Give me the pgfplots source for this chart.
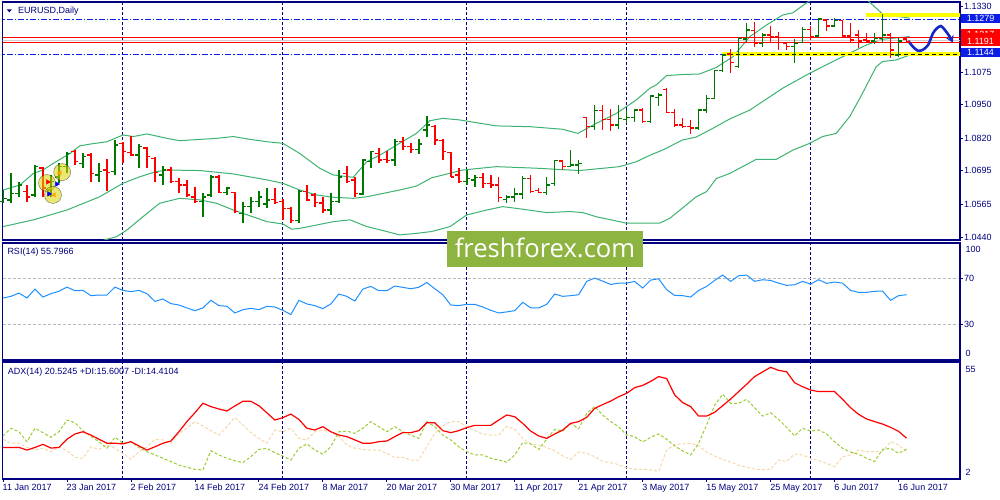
\documentclass[border=0pt]{standalone}
\usepackage{pgfplots}
\pgfplotsset{compat=1.18}
\usepackage{pgfplotstable}
\usepackage{fontspec}
\setmainfont{Liberation Sans}
\newfontfamily\wmfont{Open Sans}
\usetikzlibrary{arrows.meta}
\definecolor{mtnavy}{RGB}{0,0,128}
\definecolor{mtblue}{RGB}{10,30,230}
\definecolor{bbgreen}{RGB}{60,179,113}
\definecolor{barg}{RGB}{0,120,0}
\definecolor{barr}{RGB}{255,0,0}
\definecolor{rsiblue}{RGB}{30,144,255}
\definecolor{pdicol}{RGB}{154,205,50}
\definecolor{mdicol}{RGB}{245,215,170}
\definecolor{wmgreen}{RGB}{141,179,64}
\definecolor{fcblue}{RGB}{20,40,200}
\definecolor{mtyellow}{RGB}{255,255,0}
\newcommand\mtf{\fontsize{9}{10.5}\selectfont}

\pgfdeclareplotmark{otick}{\pgfpathmoveto{\pgfqpoint{-3.5pt}{0pt}}\pgfpathlineto{\pgfqpoint{0pt}{0pt}}\pgfusepathqstroke}
\pgfdeclareplotmark{ctick}{\pgfpathmoveto{\pgfqpoint{0pt}{0pt}}\pgfpathlineto{\pgfqpoint{3.5pt}{0pt}}\pgfusepathqstroke}

\pgfplotsset{
 panel/.style={scale only axis, width=957.5pt, xmin=-0.0625, xmax=119.6875,
   axis line style={draw=mtnavy, line width=1.1pt},
   every axis x grid/.style={draw=mtnavy, line width=0.9pt, dash pattern=on 3pt off 2pt}},
}

% bullish bars (close >= open)
\pgfplotstableread{
i O H L C
0 1.0576 1.0621 1.0570 1.0589
1 1.0583 1.0685 1.0570 1.0608
2 1.0608 1.0653 1.0595 1.0640
4 1.0602 1.0717 1.0595 1.0711
6 1.0621 1.0679 1.0595 1.0653
7 1.0672 1.0724 1.0647 1.0711
8 1.0711 1.0769 1.0685 1.0762
10 1.0724 1.0762 1.0705 1.0750
12 1.0679 1.0724 1.0653 1.0692
14 1.0692 1.0814 1.0679 1.0794
17 1.0756 1.0798 1.0705 1.0788
20 1.0679 1.0715 1.0640 1.0698
25 1.0576 1.0608 1.0518 1.0595
26 1.0602 1.0679 1.0595 1.0672
28 1.0611 1.0634 1.0602 1.0628
30 1.0531 1.0576 1.0493 1.0557
31 1.0557 1.0595 1.0531 1.0576
32 1.0576 1.0617 1.0557 1.0595
33 1.0567 1.0628 1.0550 1.0583
37 1.0503 1.0621 1.0495 1.0615
41 1.0544 1.0611 1.0525 1.0576
42 1.0576 1.0698 1.0570 1.0672
45 1.0606 1.0739 1.0602 1.0737
46 1.0730 1.0772 1.0705 1.0769
49 1.0737 1.0816 1.0713 1.0807
52 1.0778 1.0816 1.0760 1.0798
53 1.0852 1.0906 1.0827 1.0872
58 1.0653 1.0698 1.0641 1.0666
59 1.0660 1.0679 1.0634 1.0670
63 1.0585 1.0602 1.0570 1.0595
64 1.0595 1.0630 1.0576 1.0606
65 1.0606 1.0675 1.0585 1.0666
68 1.0611 1.0670 1.0602 1.0640
69 1.0647 1.0737 1.0636 1.0734
71 1.0711 1.0775 1.0708 1.0717
72 1.0717 1.0737 1.0681 1.0724
74 1.0865 1.0949 1.0852 1.0927
77 1.0872 1.0949 1.0856 1.0897
78 1.0893 1.0929 1.0878 1.0901
79 1.0901 1.0932 1.0884 1.0929
81 1.0884 1.0987 1.0878 1.0983
82 1.0978 1.0996 1.0945 1.0987
87 1.0859 1.0932 1.0852 1.0929
88 1.0929 1.0987 1.0919 1.0974
89 1.0974 1.1083 1.0970 1.1081
90 1.1081 1.1145 1.1077 1.1141
92 1.1096 1.1209 1.1090 1.1205
93 1.1202 1.1266 1.1193 1.1238
95 1.1186 1.1225 1.1173 1.1218
99 1.1173 1.1202 1.1109 1.1186
100 1.1189 1.1248 1.1186 1.1240
102 1.1214 1.1282 1.1212 1.1279
104 1.1253 1.1282 1.1248 1.1274
109 1.1196 1.1225 1.1183 1.1205
110 1.1205 1.1299 1.1189 1.1218
112 1.1141 1.1205 1.1132 1.1196
}\upbars

% bearish bars (close < open)
\pgfplotstableread{
i O H L C
3 1.0615 1.0640 1.0576 1.0595
5 1.0705 1.0711 1.0595 1.0628
9 1.0769 1.0775 1.0717 1.0730
11 1.0756 1.0762 1.0653 1.0685
13 1.0698 1.0739 1.0619 1.0688
15 1.0801 1.0807 1.0724 1.0769
16 1.0765 1.0829 1.0752 1.0756
18 1.0782 1.0788 1.0705 1.0750
19 1.0743 1.0750 1.0653 1.0688
21 1.0698 1.0711 1.0649 1.0653
22 1.0653 1.0666 1.0608 1.0640
23 1.0640 1.0660 1.0595 1.0602
24 1.0595 1.0634 1.0572 1.0576
27 1.0672 1.0679 1.0608 1.0611
29 1.0611 1.0615 1.0531 1.0538
34 1.0585 1.0628 1.0567 1.0572
35 1.0576 1.0585 1.0505 1.0550
36 1.0550 1.0557 1.0495 1.0503
38 1.0615 1.0640 1.0579 1.0583
39 1.0602 1.0608 1.0554 1.0572
40 1.0570 1.0595 1.0531 1.0544
43 1.0685 1.0714 1.0649 1.0653
44 1.0660 1.0670 1.0595 1.0608
47 1.0762 1.0782 1.0724 1.0737
48 1.0739 1.0772 1.0724 1.0734
50 1.0807 1.0824 1.0775 1.0788
51 1.0788 1.0801 1.0765 1.0778
54 1.0865 1.0872 1.0794 1.0814
55 1.0811 1.0816 1.0737 1.0769
56 1.0765 1.0769 1.0670 1.0672
57 1.0679 1.0705 1.0649 1.0653
60 1.0670 1.0685 1.0628 1.0647
61 1.0647 1.0679 1.0628 1.0640
62 1.0640 1.0670 1.0576 1.0593
66 1.0666 1.0679 1.0608 1.0615
67 1.0619 1.0630 1.0608 1.0611
70 1.0733 1.0737 1.0698 1.0711
73 1.0901 1.0904 1.0820 1.0865
75 1.0927 1.0949 1.0852 1.0893
76 1.0893 1.0932 1.0850 1.0872
80 1.0929 1.0936 1.0878 1.0884
83 1.1009 1.1013 1.0916 1.0919
84 1.0919 1.0932 1.0865 1.0872
85 1.0872 1.0897 1.0859 1.0865
86 1.0865 1.0891 1.0837 1.0859
91 1.1145 1.1163 1.1073 1.1112
94 1.1235 1.1270 1.1173 1.1186
96 1.1218 1.1253 1.1186 1.1212
97 1.1212 1.1231 1.1160 1.1189
98 1.1186 1.1189 1.1160 1.1173
101 1.1240 1.1253 1.1199 1.1212
103 1.1276 1.1279 1.1235 1.1253
105 1.1274 1.1276 1.1205 1.1214
106 1.1214 1.1266 1.1193 1.1199
107 1.1218 1.1238 1.1167 1.1196
108 1.1199 1.1227 1.1186 1.1196
111 1.1218 1.1225 1.1128 1.1160
113 1.1202 1.1212 1.1186 1.1191
}\dnbars

\pgfplotstableread{
i p
0 1.0621
2.1 1.0640
3.8 1.0685
5 1.0698
6.3 1.0724
8.4 1.0762
9.6 1.0791
10.9 1.0798
13 1.0807
15 1.0833
16.3 1.0827
18 1.0837
19.2 1.0829
20.5 1.0820
22.1 1.0811
24.6 1.0816
26.7 1.0820
28.8 1.0827
30.9 1.0816
33 1.0807
35 1.0801
37.1 1.0762
39.6 1.0705
41.3 1.0679
43.8 1.0670
45.5 1.0730
47.5 1.0762
49.6 1.0801
51.7 1.0839
53.4 1.0888
55 1.0897
57.1 1.0891
61.7 1.0868
65.9 1.0865
70 1.0855
71.9 1.0839
74.2 1.0878
76.7 1.0916
79.2 1.0968
80.9 1.1013
81.7 1.1026
83 1.1062
85 1.1066
87.1 1.1068
89.2 1.1093
91.3 1.1135
93.4 1.1212
95.5 1.1257
97.5 1.1295
98.8 1.1304
100.4 1.1340
101.5 1.1362
103 1.1378
105 1.1382
107 1.1368
108.1 1.1353
110 1.1299
113.4 1.1283
}\bbup

\pgfplotstableread{
i p
0 1.0480
3.8 1.0506
8 1.0544
12.1 1.0595
15 1.0647
17.1 1.0672
19.2 1.0692
20.5 1.0698
24.6 1.0696
28.8 1.0683
33 1.0660
35 1.0647
37.1 1.0621
39.2 1.0602
41.3 1.0593
43.8 1.0589
45.5 1.0595
49.6 1.0621
51.7 1.0636
53.6 1.0668
57.5 1.0698
61.7 1.0711
66.7 1.0705
72.1 1.0696
77.1 1.0711
79.2 1.0730
81 1.0756
82.5 1.0775
85 1.0814
86.7 1.0825
88.8 1.0859
90.9 1.0895
93.4 1.0929
97.5 1.1013
100.9 1.1071
103.8 1.1116
105.9 1.1148
108 1.1180
110 1.1202
113.4 1.1212
}\bbmid

\pgfplotstableread{
i p
0 1.0340
5 1.0370
10 1.0405
13 1.0431
14.2 1.0441
15.5 1.0467
17.5 1.0518
19.6 1.0570
22.1 1.0589
24.6 1.0583
26.7 1.0570
28.8 1.0544
33 1.0499
35 1.0490
36.1 1.0470
37.1 1.0473
39.2 1.0486
41.3 1.0499
43.4 1.0506
45.5 1.0480
47.5 1.0465
49.6 1.0448
51.7 1.0454
53.6 1.0461
55.9 1.0480
58 1.0525
60.5 1.0544
62.5 1.0557
65 1.0547
68 1.0534
70.9 1.0538
72.5 1.0534
74.2 1.0518
77.1 1.0499
78 1.0493
82.1 1.0493
83.4 1.0512
85 1.0552
86.7 1.0595
88 1.0615
89.2 1.0665
90.9 1.0685
94.2 1.0739
96.7 1.0739
98.8 1.0775
100.9 1.0801
102.5 1.0827
104.2 1.0839
105.9 1.0904
107.5 1.0994
109.2 1.1096
110 1.1116
111.7 1.1122
113.4 1.1141
}\bblow

\pgfplotstableread{
i rsi adx pdi mdi
0 53.0 16.3 21.5 20.0
1 54.4 16.3 25.0 18.2
2 57.2 16.3 23.4 18.2
3 53.0 15.1 18.9 16.3
4 60.6 16.3 25.0 15.1
5 53.8 17.7 23.0 15.9
6 56.7 16.0 20.9 14.4
7 58.7 16.3 23.4 16.6
8 62.3 20.0 28.7 14.8
9 59.2 22.4 27.5 11.8
10 59.5 23.4 23.9 11.4
11 55.0 21.9 21.2 16.6
12 55.5 20.0 18.9 15.4
13 55.5 18.2 15.9 17.4
14 62.3 18.2 20.9 15.9
15 59.5 17.9 18.2 13.6
16 58.4 18.9 18.9 10.9
17 59.5 17.0 16.3 14.4
18 56.7 15.1 14.4 16.6
19 50.1 16.6 12.9 20.0
20 52.1 18.2 11.4 19.7
21 48.2 19.2 9.9 18.2
22 47.0 23.4 8.3 22.7
23 44.5 28.0 7.3 25.0
24 42.2 32.0 6.4 28.0
25 44.5 36.3 6.1 26.0
26 51.0 34.8 14.8 23.9
27 46.5 33.7 12.9 21.9
28 45.9 32.8 11.4 25.7
29 40.2 35.1 10.3 29.9
30 43.0 37.2 9.4 26.5
31 44.2 37.2 12.1 23.0
32 43.0 35.2 15.4 20.4
33 45.9 32.0 15.9 18.2
34 45.3 28.7 13.9 24.2
35 42.5 29.8 12.4 23.4
36 38.8 31.4 10.6 25.0
37 51.0 29.0 15.9 20.4
38 47.9 25.0 17.9 19.7
39 46.5 24.2 15.1 23.4
40 43.9 25.7 13.3 24.2
41 47.9 23.4 16.6 23.4
42 56.4 21.9 23.4 21.2
43 54.4 21.2 23.7 17.4
44 50.4 19.7 22.7 15.9
45 60.6 18.2 25.0 15.4
46 62.9 18.2 28.0 15.1
47 59.2 18.9 25.7 15.1
48 59.2 19.2 23.4 13.6
49 63.2 21.2 25.7 11.8
50 62.1 23.0 23.4 11.8
51 60.9 23.0 21.9 10.6
52 62.1 23.9 20.4 10.6
53 66.3 27.5 28.0 16.6
54 60.9 27.5 25.7 22.7
55 55.8 23.9 21.9 26.0
56 47.0 23.0 19.7 28.0
57 46.5 23.9 16.6 28.0
58 47.6 25.3 14.4 25.7
59 47.6 26.3 12.9 23.9
60 45.3 26.3 12.9 22.4
61 42.5 26.3 11.4 21.9
62 40.2 28.7 10.6 21.9
63 41.1 31.0 9.6 25.9
64 42.2 30.2 12.9 24.5
65 49.3 27.2 18.5 20.4
66 44.5 23.7 17.9 17.9
67 44.5 21.5 15.4 17.4
68 47.6 20.4 20.1 16.3
69 56.4 22.4 24.5 14.8
70 54.4 24.2 23.7 12.4
71 55.0 27.2 27.2 10.9
72 55.8 28.0 24.8 14.2
73 67.2 29.9 31.7 13.6
74 70.0 34.0 34.8 12.1
75 67.4 35.7 31.0 10.0
76 64.6 37.3 28.0 9.4
77 65.7 39.3 25.7 8.5
78 65.7 40.8 21.9 7.0
79 67.2 43.4 21.2 6.4
80 61.5 44.4 18.8 6.4
81 68.3 46.2 20.9 6.1
82 69.4 48.4 22.4 5.5
83 60.1 47.5 20.0 15.1
84 55.2 40.1 17.0 17.6
85 55.0 36.6 14.7 17.9
86 53.8 34.8 12.9 18.2
87 59.5 30.5 18.2 17.0
88 62.9 30.5 26.5 14.2
89 68.0 32.2 35.4 12.4
90 72.6 35.2 40.4 10.9
91 67.2 38.2 36.3 9.7
92 72.0 41.6 36.3 8.2
93 72.6 44.9 38.1 7.3
94 67.2 48.4 34.3 6.5
95 68.6 50.5 30.5 6.2
96 68.0 52.6 32.0 6.4
97 65.7 51.2 29.0 10.6
98 63.8 50.6 25.4 10.0
99 64.3 45.6 21.5 13.3
100 67.2 43.8 25.0 12.9
101 64.9 42.3 23.7 11.4
102 68.6 41.6 24.2 10.3
103 65.5 41.6 22.4 9.1
104 66.6 41.6 18.9 7.6
105 65.7 38.1 15.9 12.1
106 59.5 34.3 14.2 12.9
107 57.8 31.3 13.2 15.1
108 57.8 29.2 11.4 14.4
109 58.7 28.0 9.9 14.4
110 58.9 26.9 15.4 14.4
111 51.0 25.4 15.9 18.9
112 55.0 23.6 13.6 17.4
113 55.8 20.5 15.6 14.4
}\ind

\begin{document}
\begin{tikzpicture}[x=1pt,y=1pt]
\path[use as bounding box] (0,0) rectangle (1000,500);
\fill[white] (0,0) rectangle (1000,500);

% ---------------- main price panel
\begin{axis}[panel, at={(2.5pt,260pt)}, anchor=south west, height=238pt,
  ymin=1.04284, ymax=1.13454,
  xtick={15,35,58,78,101}, xticklabels={}, xmajorgrids, xtick style={draw=none},
  ytick={1.0440,1.0565,1.0695,1.0820,1.0950,1.1075,1.1330},
  ytick pos=right, yticklabel pos=right, tick align=outside, major tick length=3pt,
  ytick style={draw=mtnavy, line width=0.8pt}, scaled y ticks=false,
  yticklabel style={anchor=west, text=mtnavy, font=\mtf, inner sep=1pt,
    /pgf/number format/fixed, /pgf/number format/fixed zerofill,
    /pgf/number format/precision=4, /pgf/number format/assume math mode=true},
]
\addplot[bbgreen, line width=1pt] table[x=i,y=p] {\bbup};
\addplot[bbgreen, line width=1pt] table[x=i,y=p] {\bbmid};
\addplot[bbgreen, line width=1pt] table[x=i,y=p] {\bblow};
% horizontal levels
\addplot[mtblue, line width=0.9pt, dash pattern=on 6pt off 2pt on 1.5pt off 2pt] coordinates {(-1,1.1279) (121,1.1279)};
\addplot[mtblue, line width=0.9pt, dash pattern=on 6pt off 2pt on 1.5pt off 2pt] coordinates {(-1,1.1144) (121,1.1144)};
\addplot[red, line width=1pt] coordinates {(-1,1.12094) (121,1.12094)};
\addplot[gray!40, line width=0.8pt] coordinates {(-1,1.1199) (121,1.1199)};
\addplot[red, line width=1pt] coordinates {(-1,1.11901) (121,1.11901)};
\addplot[mtyellow, line width=4pt] coordinates {(107.96,1.12942) (121,1.12942)};
\addplot[mtyellow, line width=4pt] coordinates {(89.9,1.1144) (121,1.1144)};
\addplot[black, line width=1pt, dash pattern=on 4pt off 3pt] coordinates {(89.9,1.1144) (121,1.1144)};
% OHLC bars
\addplot[draw=none, mark=none, error bars/.cd, y dir=minus, y explicit, error mark=none,
  error bar style={draw=barg, line width=1.5pt}] table[x=i, y=H, y error minus expr=\thisrow{H}-\thisrow{L}] {\upbars};
\addplot[draw=none, mark=none, error bars/.cd, y dir=minus, y explicit, error mark=none,
  error bar style={draw=barr, line width=1.5pt}] table[x=i, y=H, y error minus expr=\thisrow{H}-\thisrow{L}] {\dnbars};
\addplot[only marks, mark=otick, mark options={draw=barg, line width=1.5pt}] table[x=i,y=O] {\upbars};
\addplot[only marks, mark=ctick, mark options={draw=barg, line width=1.5pt}] table[x=i,y=C] {\upbars};
\addplot[only marks, mark=otick, mark options={draw=barr, line width=1.5pt}] table[x=i,y=O] {\dnbars};
\addplot[only marks, mark=ctick, mark options={draw=barr, line width=1.5pt}] table[x=i,y=C] {\dnbars};
% trade markers
\addplot[only marks, mark=*, mark size=8.5pt, mark options={draw=none, fill=yellow!70!olive, opacity=0.55}] coordinates {(5.5,1.0648) (6.25,1.0602) (7.4,1.0690)};
\addplot[only marks, mark=triangle*, mark size=2.6pt, mark options={rotate=-90, fill=red, draw=red}] coordinates {(5.6,1.0652)};
\addplot[only marks, mark=triangle*, mark size=2.6pt, mark options={rotate=-90, fill=blue, draw=blue}] coordinates {(6.75,1.0644) (5.75,1.0606)};
\addplot[only marks, mark=triangle*, mark size=2.6pt, mark options={rotate=90, fill=orange!70!yellow, draw=orange!70!yellow}] coordinates {(7.1,1.0687) (6.4,1.0602)};
% forecast curve
\addplot[fcblue, line width=2.6pt, smooth, -{Stealth[length=7pt,width=8pt]}] coordinates {
(113.2,1.11957) (113.8,1.11732) (114.4,1.11578) (115.0,1.11605) (115.7,1.11798) (116.3,1.12247) (116.8,1.12440) (117.3,1.12529) (117.8,1.12375) (118.4,1.12118) (118.8,1.11886)};
\end{axis}

% ---------------- RSI panel
\begin{axis}[panel, at={(2.5pt,140pt)}, anchor=south west, height=117pt,
  ymin=0, ymax=100,
  xtick={15,35,58,78,101}, xticklabels={}, xmajorgrids, xtick style={draw=none},
  ytick={30,70}, ymajorgrids,
  every axis y grid/.style={draw=gray!55, line width=0.8pt, dash pattern=on 3pt off 2pt},
  ytick pos=right, yticklabel pos=right, tick align=outside, major tick length=3pt,
  ytick style={draw=mtnavy, line width=0.8pt},
  yticklabel style={anchor=west, text=mtnavy, font=\mtf, inner sep=1pt, /pgf/number format/assume math mode=true},
]
\addplot[rsiblue, line width=1pt] table[x=i,y=rsi] {\ind};
\end{axis}

% ---------------- ADX panel
\begin{axis}[panel, at={(2.5pt,21pt)}, anchor=south west, height=117pt,
  ymin=2, ymax=55, ytick=\empty,
  xtick={0,8,...,112},
  xticklabels={11 Jan 2017,23 Jan 2017,2 Feb 2017,14 Feb 2017,24 Feb 2017,8 Mar 2017,20 Mar 2017,30 Mar 2017,11 Apr 2017,21 Apr 2017,3 May 2017,15 May 2017,25 May 2017,6 Jun 2017,16 Jun 2017},
  xtick pos=bottom, tick align=outside, major tick length=3pt,
  xtick style={draw=mtnavy, line width=0.8pt},
  xticklabel style={anchor=north west, text=mtnavy, font=\mtf, inner sep=0pt, xshift=-0.5pt, yshift=-2pt},
  extra x ticks={15,35,58,78,101}, extra x tick labels={},
  extra x tick style={grid=major, major tick length=0pt},
]
\addplot[mdicol, line width=1pt, dash pattern=on 3pt off 2pt] table[x=i,y=mdi] {\ind};
\addplot[pdicol, line width=1pt, dash pattern=on 3pt off 2pt] table[x=i,y=pdi] {\ind};
\addplot[red, line width=1.2pt] table[x=i,y=adx] {\ind};
\end{axis}

% ---------------- texts and labels
\fill[mtnavy] (6.7,490.7) -- (11.9,490.7) -- (9.3,487.6) -- cycle;
\node[anchor=west, text=mtnavy, font=\mtf, inner sep=0pt] at (18,489) {EURUSD,Daily};
\node[anchor=west, text=mtnavy, font=\mtf, inner sep=0pt] at (7.3,248.3) {RSI(14) 55.7966};
\node[anchor=west, text=mtnavy, font=\mtf, inner sep=0pt] at (7.7,128.3) {ADX(14) 20.5245 +DI:15.6007 -DI:14.4104};
\node[anchor=west, text=mtnavy, font=\mtf, inner sep=0pt] at (965.5,251) {100};
\node[anchor=west, text=mtnavy, font=\mtf, inner sep=0pt] at (965.5,146.5) {0};
\node[anchor=west, text=mtnavy, font=\mtf, inner sep=0pt] at (965.5,130.5) {55};
\node[anchor=west, text=mtnavy, font=\mtf, inner sep=0pt] at (965.5,28) {2};

\fill[mtblue] (961,476.7) rectangle (1000,486);
\node[text=white, font=\mtf, inner sep=0pt] at (980.5,481.3) {1.1279};
\fill[red] (961,454.3) rectangle (1000,471);
\begin{scope}
\clip (961,467.2) rectangle (1000,471);
\node[text=white, font=\mtf, inner sep=0pt] at (980.5,465.5) {1.1217};
\end{scope}
\node[text=white, font=\mtf, inner sep=0pt] at (980.5,459) {1.1191};
\fill[mtblue] (961,442.7) rectangle (1000,451.7);
\node[text=white, font=\mtf, inner sep=0pt] at (980.5,447.2) {1.1144};

% watermark
\fill[wmgreen] (447,233) rectangle (643,269);
\node[text=white, font=\wmfont\fontsize{25.6}{28}\selectfont, inner sep=0pt] at (545,251.7) {freshforex.com};
\end{tikzpicture}
\end{document}
